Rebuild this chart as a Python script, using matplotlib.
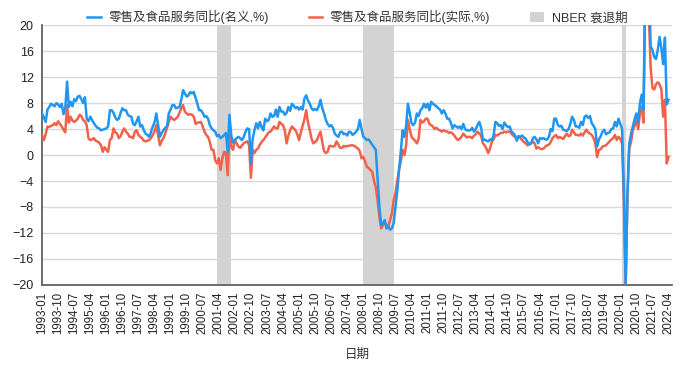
import matplotlib.pyplot as plt
import pandas as pd

plt.rcParams['font.family'] = ['Liberation Sans', 'Noto Sans CJK SC']

# monthly, 1993-01 .. 2022-04
months = pd.date_range('1993-01-01', '2022-04-01', freq='MS').strftime('%Y-%m').tolist()

# 零售及食品服务同比(名义,%)
nominal = [
    6.4, 5.8, 5.1, 7.0, 7.4, 7.9, 7.7, 7.5, 8.0, 7.8, 7.4, 7.9,        # 1993
    6.3, 7.2, 11.3, 7.4, 8.2, 7.5, 8.6, 8.3, 9.0, 9.1, 8.6, 8.0,       # 1994
    8.9, 5.6, 5.2, 5.9, 5.4, 4.9, 4.5, 4.2, 4.1, 3.8, 3.9, 4.0,        # 1995
    4.1, 4.4, 6.9, 6.9, 6.5, 5.8, 5.4, 5.6, 6.5, 7.2, 6.9, 6.9,        # 1996
    6.2, 6.0, 5.9, 4.8, 4.6, 5.2, 5.9, 4.4, 4.6, 3.8, 3.3, 3.1,        # 1997
    2.8, 3.5, 4.4, 5.0, 6.4, 4.6, 2.8, 3.4, 3.8, 4.2, 4.4, 6.4,        # 1998
    7.0, 7.7, 7.7, 7.2, 7.3, 7.4, 8.5, 10.0, 9.5, 9.0, 9.2, 9.7,       # 1999
    9.5, 9.7, 8.8, 7.9, 6.9, 6.9, 6.5, 5.9, 6.0, 5.6, 4.6, 4.1,        # 2000
    3.8, 3.6, 2.9, 3.1, 2.6, 2.8, 3.1, 3.4, 0.5, 6.2, 3.0, 1.9,        # 2001
    2.3, 2.6, 2.8, 2.6, 2.3, 2.8, 3.6, 4.1, 4.0, -1.3, 2.5, 3.8,       # 2002
    4.9, 4.1, 5.1, 4.3, 3.8, 5.6, 5.2, 5.4, 6.4, 5.9, 6.0, 7.0,        # 2003
    5.9, 7.4, 6.7, 6.7, 6.2, 6.5, 7.4, 6.8, 7.9, 7.6, 7.2, 7.4,        # 2004
    7.0, 7.4, 7.0, 8.7, 9.2, 8.4, 7.9, 7.2, 6.9, 7.1, 6.9, 7.5,        # 2005
    8.5, 7.2, 6.4, 5.4, 4.8, 4.4, 4.6, 4.2, 3.3, 3.0, 2.8, 3.5,        # 2006
    3.6, 3.2, 3.3, 3.0, 3.6, 3.5, 3.1, 3.3, 3.6, 4.0, 5.4, 4.0,        # 2007
    2.8, 2.6, 2.3, 2.4, 2.0, 1.6, 1.2, 0.8, -3.5, -8.0, -10.8, -10.5,  # 2008
    -10.0, -11.3, -11.0, -11.5, -11.3, -10.5, -8.0, -5.6, -2.3, 0.5, 3.8, 2.8,  # 2009
    4.5, 7.9, 6.5, 4.9, 4.6, 5.0, 6.4, 6.0, 6.9, 7.2, 7.9, 7.3,        # 2010
    7.9, 6.9, 8.2, 7.9, 7.7, 7.5, 7.2, 7.0, 6.4, 6.9, 6.4, 5.6,        # 2011
    5.6, 5.0, 4.1, 4.6, 4.4, 4.2, 4.4, 4.0, 4.8, 4.0, 3.8, 3.8,        # 2012
    3.8, 4.2, 3.6, 4.0, 4.6, 5.1, 4.2, 2.3, 2.4, 2.2, 2.1, 2.4,        # 2013
    2.3, 3.0, 5.1, 4.9, 4.5, 4.6, 4.0, 5.0, 4.6, 4.3, 4.4, 3.6,        # 2014
    3.4, 3.0, 2.2, 2.9, 2.8, 3.0, 2.7, 2.5, 2.0, 1.7, 1.8, 2.6,        # 2015
    2.8, 2.4, 1.8, 2.6, 2.5, 2.6, 2.4, 2.4, 2.8, 4.0, 3.7, 5.6,        # 2016
    5.6, 4.6, 4.4, 4.5, 3.9, 3.8, 3.7, 4.0, 4.8, 5.9, 5.4, 4.4,        # 2017
    4.4, 4.2, 5.1, 4.6, 5.9, 6.1, 5.7, 6.0, 4.9, 4.5, 4.0, 1.3,        # 2018
    2.4, 2.9, 3.6, 3.9, 3.2, 3.4, 3.5, 4.0, 4.1, 5.1, 4.4, 5.6,        # 2019
    4.8, 4.0, -5.6, -19.9, -6.0, 1.8, 3.2, 4.4, 5.5, 6.4, 5.0, 8.0,    # 2020
    9.3, 7.0, 28.0, 51.0, 28.0, 16.7, 16.2, 15.1, 14.8, 16.2, 18.2, 16.5,  # 2021
    14.0, 18.1, 7.8, 8.5,                                              # 2022
]

# 零售及食品服务同比(实际,%)
real = [
    3.0, 2.3, 3.2, 4.4, 4.3, 4.5, 4.6, 4.9, 4.6, 5.2, 4.8, 4.4,        # 1993
    3.9, 3.5, 7.7, 5.0, 5.9, 5.3, 5.1, 5.3, 5.6, 6.2, 6.0, 5.4,        # 1994
    5.2, 4.6, 2.6, 2.3, 2.4, 2.6, 2.2, 2.1, 1.9, 1.5, 0.5, 1.2,        # 1995
    0.8, 0.5, 2.3, 2.6, 4.1, 3.5, 3.3, 2.6, 2.9, 3.6, 4.1, 3.6,        # 1996
    3.3, 2.8, 2.8, 2.6, 3.6, 3.8, 3.1, 2.8, 2.6, 2.2, 2.1, 2.2,        # 1997
    2.3, 2.6, 3.1, 3.6, 4.6, 3.0, 1.5, 2.2, 2.6, 3.3, 4.2, 5.1,        # 1998
    5.9, 5.6, 5.4, 5.6, 5.9, 6.5, 7.2, 7.7, 6.7, 6.4, 6.2, 6.3,        # 1999
    6.2, 5.9, 4.8, 5.0, 5.0, 5.1, 4.4, 3.6, 3.1, 2.8, 2.0, 0.8,        # 2000
    0.8, -0.8, -1.3, -0.5, -2.3, -0.5, 0.5, 0.3, -3.1, 4.0, 1.2, 0.8,  # 2001
    2.3, 1.8, 1.3, 1.1, 1.5, 1.8, 2.0, 2.1, 1.5, -3.5, 0.8, 0.3,       # 2002
    0.8, 1.0, 1.6, 2.0, 2.3, 2.7, 3.1, 3.5, 3.6, 4.0, 4.4, 4.1,        # 2003
    4.1, 5.1, 4.8, 4.6, 3.8, 1.8, 3.0, 3.8, 4.4, 4.1, 3.8, 3.2,        # 2004
    2.3, 3.5, 4.5, 5.5, 6.9, 5.0, 3.8, 2.5, 1.8, 2.0, 2.3, 3.0,        # 2005
    3.6, 2.0, 0.6, 0.3, 0.5, 1.4, 1.4, 1.3, 1.4, 2.1, 1.6, 1.1,        # 2006
    1.1, 1.4, 1.3, 1.4, 1.4, 1.5, 1.5, 1.4, 1.2, 1.0, 0.6, -0.5,       # 2007
    -0.3, -1.0, -1.8, -2.0, -2.3, -2.6, -4.0, -5.0, -7.0, -9.5, -11.3, -10.8,  # 2008
    -10.5, -10.8, -11.0, -10.0, -9.0, -7.0, -5.9, -4.0, -2.3, -1.0, 0.8, 0.0,  # 2009
    1.5, 5.4, 4.0, 2.8, 2.5, 2.2, 1.8, 2.5, 5.4, 5.0, 5.2, 5.6,        # 2010
    5.6, 4.8, 4.6, 4.4, 4.0, 4.2, 3.9, 3.8, 3.6, 3.8, 3.7, 3.6,        # 2011
    3.4, 3.5, 3.3, 3.0, 2.6, 2.3, 2.5, 2.8, 3.3, 3.0, 2.7, 2.8,        # 2012
    2.8, 2.6, 3.0, 3.2, 3.6, 3.3, 3.0, 1.8, 1.5, 1.0, 0.3, 1.0,        # 2013
    2.1, 2.4, 3.1, 3.0, 3.2, 3.4, 3.4, 3.6, 3.5, 3.6, 3.6, 3.3,        # 2014
    3.0, 2.8, 2.5, 2.9, 2.6, 2.3, 2.0, 1.8, 1.5, 1.6, 1.8, 2.1,        # 2015
    1.8, 1.0, 1.2, 1.0, 0.9, 1.0, 1.3, 1.5, 1.6, 2.0, 2.6, 2.9,        # 2016
    3.1, 2.6, 2.8, 2.6, 2.5, 2.9, 3.3, 2.9, 3.0, 3.9, 3.5, 3.1,        # 2017
    3.1, 3.0, 3.3, 3.0, 3.5, 3.9, 3.5, 3.3, 3.1, 2.6, 1.8, -0.3,       # 2018
    0.8, 0.9, 1.3, 1.4, 1.5, 1.8, 2.1, 2.4, 2.6, 3.1, 2.3, 2.8,        # 2019
    2.5, 1.8, -7.0, -20.5, -6.5, 1.0, 2.0, 3.8, 4.5, 5.4, 4.0, 6.4,    # 2020
    7.5, 5.0, 25.0, 45.0, 21.5, 13.5, 10.3, 10.1, 10.9, 11.2, 10.9, 10.1,  # 2021
    5.9, 8.5, -1.3, -0.3,                                              # 2022
]

# NBER recessions (start, end)
recessions = [('2001-03', '2001-11'), ('2008-01', '2009-06'), ('2020-02', '2020-04')]

blue = '#2196F0'
red = '#F2614A'
band = '#D3D3D3'

fig, ax = plt.subplots(figsize=(6.9, 3.7), dpi=100)
fig.subplots_adjust(left=0.061, right=0.974, top=0.932, bottom=0.23)

x = list(range(len(months)))
for i, (s, e) in enumerate(recessions):
    ax.axvspan(months.index(s), months.index(e), color=band, lw=0, zorder=1,
               label='NBER 衰退期' if i == 0 else None)

ax.plot(x, real, color=red, lw=1.8, zorder=3, label='零售及食品服务同比(实际,%)')
ax.plot(x, nominal, color=blue, lw=1.8, zorder=4, label='零售及食品服务同比(名义,%)')

ax.set_ylim(-20, 20)
ax.set_yticks(range(-20, 21, 4))
ax.set_xlim(0, 353)
ax.set_xticks(x[::9])
ax.set_xticklabels(months[::9], rotation=90)
ax.tick_params(axis='x', length=0, pad=5, labelsize=8.3, colors='#222222')
ax.tick_params(axis='y', length=0, pad=6, labelsize=9, colors='#222222')

ax.grid(axis='y', color='#D9D9D9', lw=1)
ax.set_axisbelow(True)
for side in ['top', 'right']:
    ax.spines[side].set_visible(False)
for side in ['left', 'bottom']:
    ax.spines[side].set_color('#555555')
    ax.spines[side].set_linewidth(1.2)

ax.set_xlabel('日期', fontsize=9, color='#333333', labelpad=10)

handles, labels = ax.get_legend_handles_labels()
order = [2, 1, 0]
ax.legend([handles[i] for i in order], [labels[i] for i in order],
          loc='center', bbox_to_anchor=(0.5, 1.03), ncol=3, frameon=False,
          fontsize=9, handlelength=1.1, handleheight=0.8, columnspacing=3.2,
          handletextpad=0.6, labelcolor='#333333')

fig.savefig('out.png', dpi=100)
